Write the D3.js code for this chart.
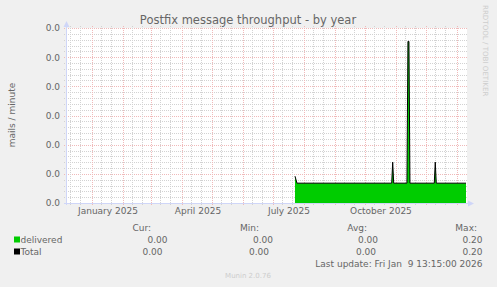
<!DOCTYPE html>
<html>
<head>
<meta charset="utf-8">
<script src="https://cdn.jsdelivr.net/npm/d3@7"></script>
<style>
body { margin: 0; background: #f0f0f0; }
svg { display: block; font-family: "DejaVu Sans", sans-serif; }
</style>
</head>
<body>
<svg id="chart" width="497" height="287"></svg>
<script>
// values, mails / minute
var times = ["2025-07-22 13:00", "2025-07-24 12:00", "2025-10-27 06:00", "2025-10-28 06:00",
             "2025-10-29 06:00", "2025-11-11 12:00", "2025-11-12 12:00", "2025-11-13 12:00",
             "2025-11-14 12:00", "2025-12-08 20:00", "2025-12-09 20:00", "2025-12-10 20:00",
             "2026-01-09 13:15"];
var delivered = [0.0046, 0.0034, 0.0034, 0.0070, 0.0034, 0.0034, 0.0277, 0.0277, 0.0034, 0.0034, 0.0070, 0.0034, 0.0034];
var total     = [0.0046, 0.0034, 0.0034, 0.0070, 0.0034, 0.0034, 0.0277, 0.0277, 0.0034, 0.0034, 0.0070, 0.0034, 0.0034];

var yTicks = [0, 0.005, 0.010, 0.015, 0.020, 0.025, 0.030];
var xLabelMonths = ["2025-01-01", "2025-04-01", "2025-07-01", "2025-10-01"];

var legendNames = ["delivered", "Total"];
var legendColors = ["#00cc00", "#000000"];
var curVals = ["0.00", "0.00"];
var minVals = ["0.00", "0.00"];
var avgVals = ["0.00", "0.00"];
var maxVals = ["0.20", "0.20"];
var lastUpdate = "Last update: Fri Jan  9 13:15:00 2026";

var parseT = d3.timeParse("%Y-%m-%d %H:%M");
var parseD = d3.timeParse("%Y-%m-%d");
var endTime = parseT("2026-01-09 13:15");
var startTime = d3.timeDay.offset(endTime, -400);

var pLeft = 66, pRight = 466, pTop = 28, pBottom = 203;

var svg = d3.select("#chart");
svg.append("rect").attr("width", 497).attr("height", 287).attr("fill", "#f0f0f0");

var x = d3.scaleTime().domain([startTime, endTime]).range([pLeft, pRight]);
var y = d3.scaleLinear().domain([0, 0.03]).range([pBottom, pTop]);

// title
svg.append("text")
    .attr("x", 248).attr("y", 24)
    .attr("text-anchor", "middle")
    .attr("font-size", "11.5px")
    .attr("fill", "#666")
    .text("Postfix message throughput - by year");

// vertical label
svg.append("text")
    .attr("transform", "translate(15," + 115 + ") rotate(-90)")
    .attr("text-anchor", "middle")
    .attr("font-size", "9px")
    .attr("fill", "#666")
    .text("mails / minute");

// watermark
svg.append("text")
    .attr("transform", "translate(483,5) rotate(90)")
    .attr("font-size", "7.1px")
    .attr("fill", "#cdcdcd")
    .text("RRDTOOL / TOBI OETIKER");

// canvas
svg.append("rect")
    .attr("x", pLeft).attr("y", pTop)
    .attr("width", pRight - pLeft + 1).attr("height", pBottom - pTop)
    .attr("fill", "#ffffff");

var grid = svg.append("g").attr("class", "grid");
var minorColor = "#d2d2d2", majorColor = "#f0b9b9";

//====== horizontal grid
var minorY = d3.range(0, 31).map(function(i) { return i * 0.001; })
    .filter(function(v, i) { return i % 5 != 0; });

grid.selectAll(".hminor")
    .data(minorY)
    .enter().append("line")
    .attr("x1", pLeft - 2).attr("x2", pRight + 2)
    .attr("y1", function(d) { return Math.round(y(d)) + 0.5; })
    .attr("y2", function(d) { return Math.round(y(d)) + 0.5; })
    .attr("stroke", minorColor)
    .attr("stroke-dasharray", "1,1");

grid.selectAll(".hmajor")
    .data(yTicks)
    .enter().append("line")
    .attr("x1", pLeft - 2).attr("x2", pRight + 2)
    .attr("y1", function(d) { return Math.round(y(d)) + 0.5; })
    .attr("y2", function(d) { return Math.round(y(d)) + 0.5; })
    .attr("stroke", majorColor)
    .attr("stroke-dasharray", "1,1");

//====== vertical grid
var months = d3.timeMonth.range(d3.timeMonth.ceil(startTime), endTime);
var minorX = [];
d3.timeMonth.range(d3.timeMonth.floor(startTime), endTime).forEach(function(m) {
    [10, 20].forEach(function(day) {
        var t = new Date(m.getFullYear(), m.getMonth(), day);
        if (t > startTime && t < endTime) minorX.push(t);
    });
});

grid.selectAll(".vminor")
    .data(minorX)
    .enter().append("line")
    .attr("x1", function(d) { return Math.round(x(d)) + 0.5; })
    .attr("x2", function(d) { return Math.round(x(d)) + 0.5; })
    .attr("y1", pTop - 2).attr("y2", pBottom + 2)
    .attr("stroke", minorColor)
    .attr("stroke-dasharray", "1,1");

grid.selectAll(".vmajor")
    .data(months)
    .enter().append("line")
    .attr("x1", function(d) { return Math.round(x(d)) + 0.5; })
    .attr("x2", function(d) { return Math.round(x(d)) + 0.5; })
    .attr("y1", pTop - 2).attr("y2", pBottom + 2)
    .attr("stroke", majorColor)
    .attr("stroke-dasharray", "1,1");

//====== data
var data = times.map(function(t, i) { return { t: parseT(t), d: delivered[i], tot: total[i] }; });

var area = d3.area()
    .x(function(d) { return x(d.t); })
    .y0(pBottom)
    .y1(function(d) { return y(d.d); });

svg.append("path")
    .attr("d", area(data))
    .attr("fill", "#00cc00");

var line = d3.line()
    .x(function(d) { return x(d.t); })
    .y(function(d) { return y(d.tot); });

svg.append("path")
    .attr("d", line(data))
    .attr("fill", "none")
    .attr("stroke", "#000")
    .attr("stroke-width", 1);

//====== axes lines + arrows
var axisColor = "#cfd6f8";
svg.append("line")
    .attr("x1", pLeft + 0.5).attr("x2", pLeft + 0.5)
    .attr("y1", pBottom + 2).attr("y2", pTop - 4)
    .attr("stroke", axisColor);
svg.append("path")
    .attr("d", "M" + (pLeft - 2.5) + "," + (pTop - 1) + "L" + (pLeft + 0.5) + "," + (pTop - 7) + "L" + (pLeft + 3.5) + "," + (pTop - 1) + "Z")
    .attr("fill", axisColor);

svg.append("line")
    .attr("x1", pLeft - 2).attr("x2", pRight + 4)
    .attr("y1", pBottom + 0.5).attr("y2", pBottom + 0.5)
    .attr("stroke", axisColor);
svg.append("path")
    .attr("d", "M" + (pRight + 2) + "," + (pBottom - 2.5) + "L" + (pRight + 8) + "," + (pBottom + 0.5) + "L" + (pRight + 2) + "," + (pBottom + 3.5) + "Z")
    .attr("fill", axisColor);

//====== tick labels
var yAxis = d3.axisLeft(y)
    .tickValues(yTicks)
    .tickSize(0)
    .tickPadding(6)
    .tickFormat(d3.format(".1f"));

svg.append("g")
    .attr("transform", "translate(" + pLeft + ",0)")
    .call(yAxis)
    .call(function(g) { g.select(".domain").remove(); })
    .selectAll("text")
    .attr("font-family", "DejaVu Sans")
    .attr("font-size", "9px")
    .attr("fill", "#666");

var xAxis = d3.axisBottom(x)
    .tickValues(xLabelMonths.map(function(m) { return d3.timeDay.offset(parseD(m), 15); }))
    .tickSize(0)
    .tickPadding(5)
    .tickFormat(function(d) { return d3.timeFormat("%B %Y")(d3.timeMonth.floor(d)); });

svg.append("g")
    .attr("transform", "translate(0," + pBottom + ")")
    .call(xAxis)
    .call(function(g) { g.select(".domain").remove(); })
    .selectAll("text")
    .attr("font-family", "DejaVu Sans")
    .attr("font-size", "9px")
    .attr("fill", "#666");

//====== legend
var legend = svg.append("g").attr("font-size", "9px").attr("fill", "#666");

var headers = ["Cur:", "Min:", "Avg:", "Max:"];
var headerX = [151, 259, 367, 477];
legend.selectAll(".hdr")
    .data(headers)
    .enter().append("text")
    .attr("x", function(d, i) { return headerX[i]; })
    .attr("y", 231)
    .attr("text-anchor", "end")
    .text(function(d) { return d; });

var colX = [[167.5, 273, 378, 482.5], [162.5, 269, 376, 482.5]];
legendNames.forEach(function(name, r) {
    var yy = 243 + r * 12;
    legend.append("rect")
        .attr("x", 14).attr("y", yy - 6.5)
        .attr("width", 6).attr("height", 6)
        .attr("fill", legendColors[r]);
    legend.append("text")
        .attr("x", 20.5).attr("y", yy)
        .text(name);
    [curVals[r], minVals[r], avgVals[r], maxVals[r]].forEach(function(v, c) {
        legend.append("text")
            .attr("x", colX[r][c]).attr("y", yy)
            .attr("text-anchor", "end")
            .text(v);
    });
});

legend.append("text")
    .attr("x", 482.5).attr("y", 266.5)
    .attr("text-anchor", "end")
    .attr("xml:space", "preserve")
    .style("white-space", "pre")
    .text(lastUpdate);

svg.append("text")
    .attr("x", 248).attr("y", 278)
    .attr("text-anchor", "middle")
    .attr("font-size", "7px")
    .attr("fill", "#cdcdcd")
    .text("Munin 2.0.76");
</script>
</body>
</html>
